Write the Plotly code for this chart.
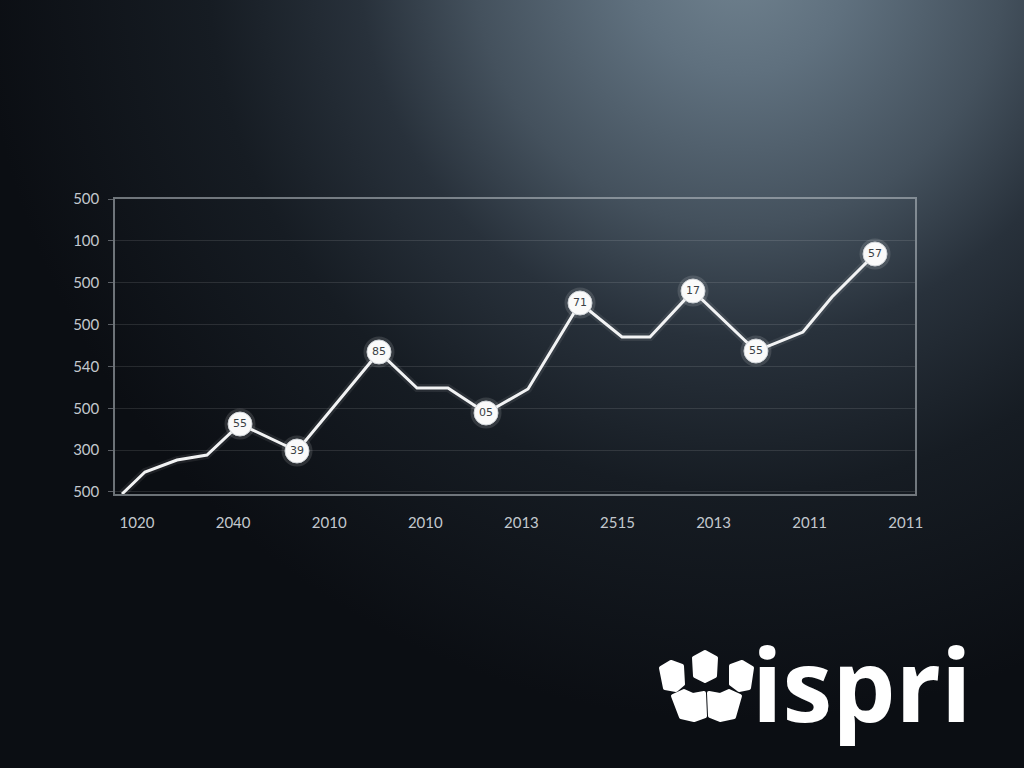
import base64
import plotly.graph_objects as go

# ---- data ----
x_labels = ["1020", "2040", "2010", "2010", "2013", "2515", "2013", "2011", "2011"]
y_tick_labels = ["500", "300", "500", "540", "500", "500", "100", "500"]  # bottom -> top

x_pos = [-0.156, 0.083, 0.416, 0.728, 1.072, 1.665, 2.518, 2.914, 3.236, 3.632,
         4.069, 4.610, 5.047, 5.338, 5.786, 6.441, 6.930, 7.232, 7.680]
y_vals = [-0.048, 0.478, 0.764, 0.884, 1.624, 0.979, 3.345, 2.484, 2.484, 1.887,
          2.461, 4.515, 3.703, 3.703, 4.802, 3.368, 3.822, 4.658, 5.686]
point_labels = ["", "", "", "", "55", "39", "85", "", "", "05",
                "", "71", "", "", "17", "55", "", "", "57"]

logo_text = "ispri"

mk_x = [x for x, l in zip(x_pos, point_labels) if l]
mk_y = [y for y, l in zip(y_vals, point_labels) if l]
mk_t = [l for l in point_labels if l]

# ---- background (gradient + logo mark) as an SVG image ----
svg = """<svg xmlns="http://www.w3.org/2000/svg" width="1024" height="768" viewBox="0 0 1024 768" preserveAspectRatio="none">
<defs>
<radialGradient id="g" gradientUnits="userSpaceOnUse" cx="740" cy="-40" r="760">
<stop offset="0" stop-color="#70828f"/>
<stop offset="0.15" stop-color="#5f707e"/>
<stop offset="0.35" stop-color="#44515d"/>
<stop offset="0.5" stop-color="#28313b"/>
<stop offset="0.7" stop-color="#161c23"/>
<stop offset="1" stop-color="#0b0e13"/>
</radialGradient>
</defs>
<rect x="0" y="0" width="1024" height="768" fill="#0b0e13"/>
<rect x="0" y="0" width="1024" height="768" fill="url(#g)"/>
<g fill="#ffffff" stroke="#ffffff" stroke-width="4" stroke-linejoin="round">
<path d="M661,668 L671,662 L682,666 L683,684 L676,690 L665,688 Z"/>
<path d="M694,658 L705,652 L716,658 L715,676 L705,681 L695,676 Z"/>
<path d="M731,666 L742,662 L752,668 L749,688 L739,690 L731,684 Z"/>
<path d="M673,696 L684,691 L693,695 L704,693 L705,716 L694,720 L681,717 Z"/>
<path d="M709,693 L720,695 L729,691 L740,696 L734,717 L720,720 L710,716 Z"/>
</g>
</svg>"""
svg_uri = "data:image/svg+xml;base64," + base64.b64encode(svg.encode("utf-8")).decode("ascii")

L, R, T, B = 115, 109, 199, 274
W, H = 1024, 768
pw, ph = W - L - R, H - T - B

fig = go.Figure()
fig.add_trace(go.Scatter(x=x_pos, y=y_vals, mode="lines",
                         line=dict(color="rgba(255,255,255,0.08)", width=8),
                         hoverinfo="skip"))
fig.add_trace(go.Scatter(x=x_pos, y=y_vals, mode="lines",
                         line=dict(color="#f2f3f4", width=3)))
fig.add_trace(go.Scatter(x=mk_x, y=mk_y, mode="markers",
                         marker=dict(size=31, color="rgba(255,255,255,0.13)"),
                         hoverinfo="skip"))
fig.add_trace(go.Scatter(x=mk_x, y=mk_y, mode="markers+text", text=mk_t,
                         textposition="middle center", cliponaxis=False,
                         marker=dict(size=24, color="#fafafa",
                                     line=dict(color="#d0d4d8", width=1)),
                         textfont=dict(size=11, color="#3a3f45",
                                       family="DejaVu Sans, sans-serif")))

axis_font = dict(size=15, color="#c3c8ce", family="Lato, Open Sans, sans-serif")

fig.update_layout(
    width=W, height=H,
    margin=dict(l=L, r=R, t=T, b=B, pad=0),
    paper_bgcolor="#0b0e13",
    plot_bgcolor="rgba(0,0,0,0)",
    showlegend=False,
    images=[dict(source=svg_uri, xref="paper", yref="paper",
                 x=-L / pw, y=1 + T / ph, sizex=W / pw, sizey=H / ph,
                 xanchor="left", yanchor="top", sizing="stretch",
                 layer="below")],
    xaxis=dict(range=[-0.229, 8.096], tickvals=list(range(len(x_labels))),
               ticktext=x_labels, showgrid=False, zeroline=False,
               showline=True, mirror=True, linecolor="rgba(190,196,202,0.55)",
               linewidth=1.5, ticks="", tickfont=axis_font,
               ticklabelstandoff=14),
    yaxis=dict(range=[-0.048, 7.0], tickvals=list(range(len(y_tick_labels))),
               ticktext=y_tick_labels, showgrid=True,
               gridcolor="rgba(255,255,255,0.11)", gridwidth=1,
               zeroline=False, showline=True, mirror=True,
               linecolor="rgba(190,196,202,0.55)", linewidth=1.5,
               ticks="outside", ticklen=5, tickcolor="rgba(190,196,202,0.45)",
               tickfont=axis_font, ticklabelstandoff=6),
    annotations=[dict(text=logo_text, xref="paper", yref="paper",
                      x=(861 - L) / pw, y=(494 - 683) / ph,
                      xanchor="center", yanchor="middle", showarrow=False,
                      font=dict(size=100, color="#ffffff",
                                family="Open Sans, sans-serif", weight=700))],
)

fig.write_html("out.html",
               config={"displayModeBar": False},
               post_script="document.body.style.margin='0';"
                           "document.body.style.overflow='hidden';"
                           "document.body.style.background='#0b0e13';")
